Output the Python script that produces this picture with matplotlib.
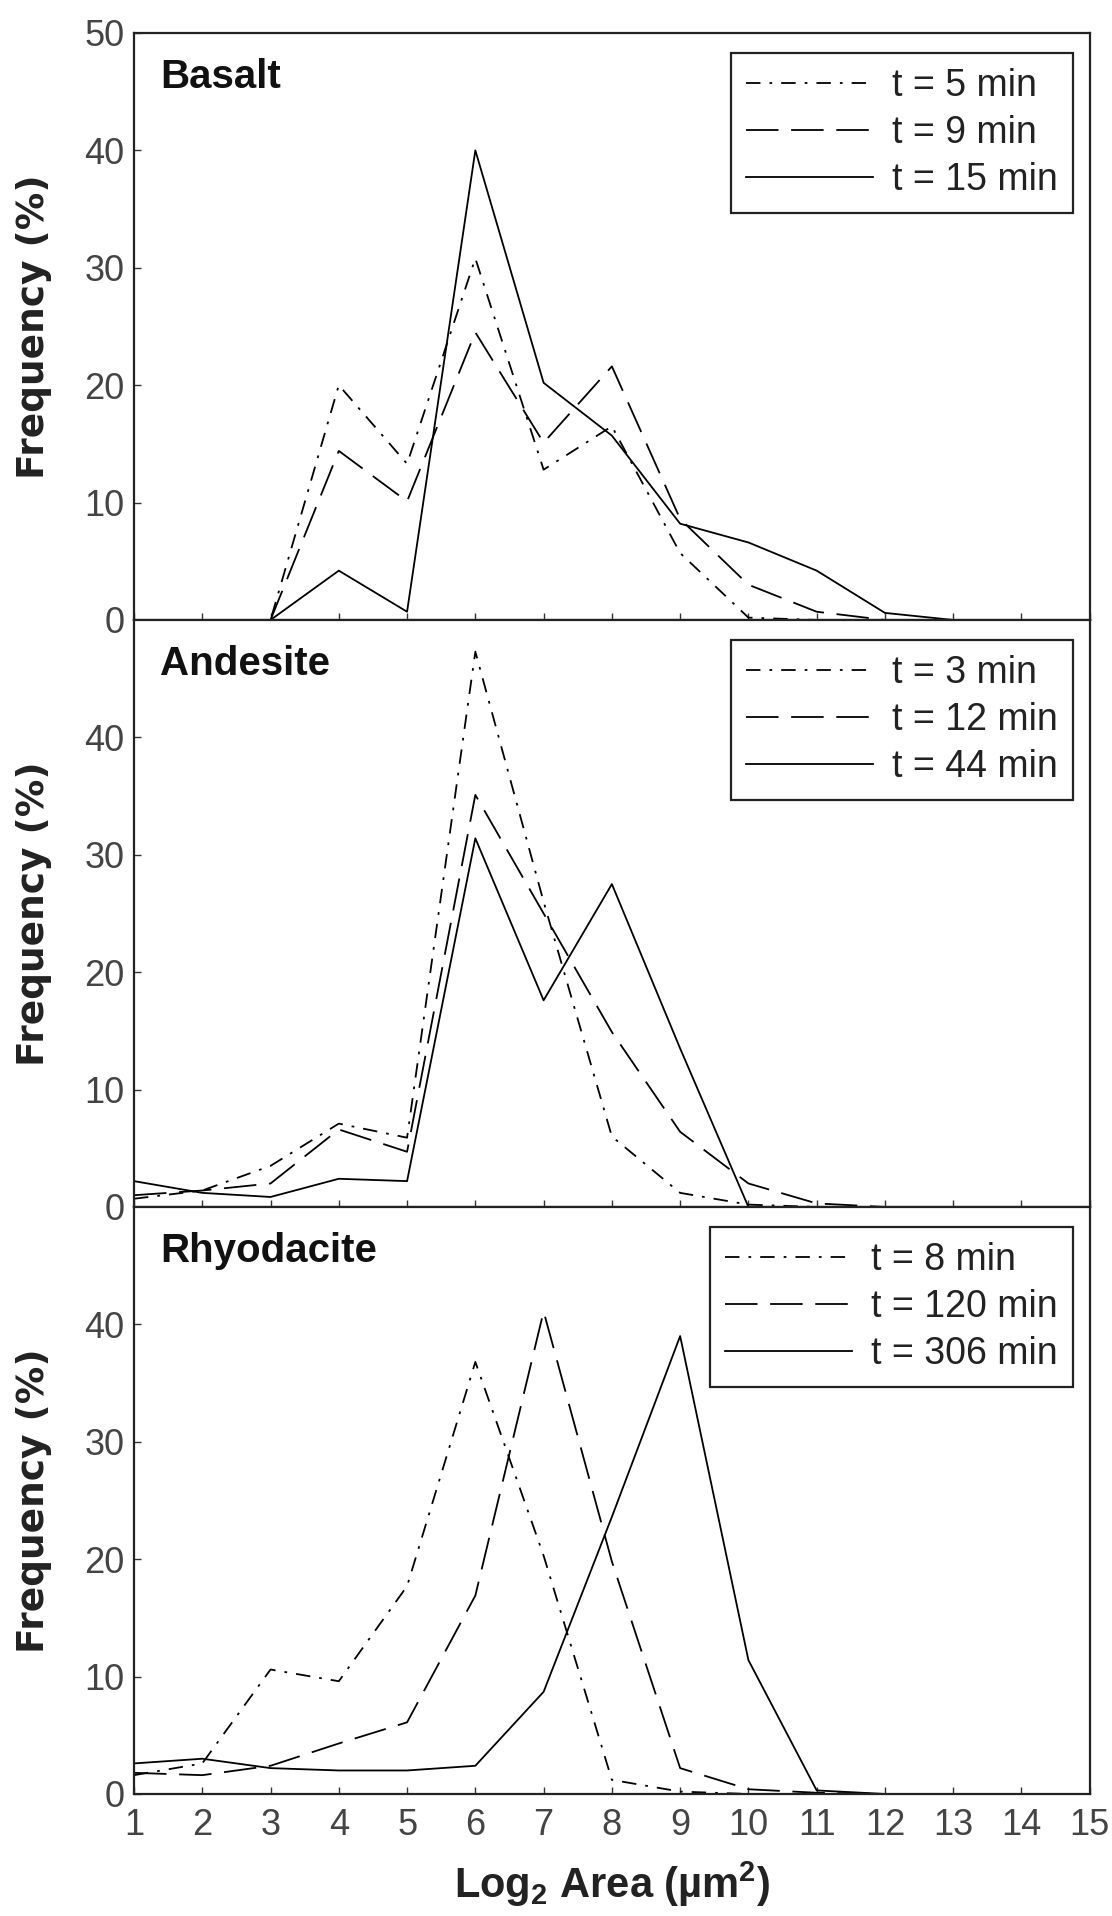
import matplotlib
matplotlib.use("Agg")
import matplotlib.pyplot as plt

plt.rcParams['font.family'] = ['Liberation Sans', 'DejaVu Sans']
plt.rcParams['mathtext.default'] = 'regular'

x = list(range(1, 16))

# Basalt
basalt_labels = ["t = 5 min", "t = 9 min", "t = 15 min"]
basalt_5 = [0, 0, 0, 20, 13.3, 30.8, 12.8, 16.5, 5.7, 0.2, 0, 0, 0, 0, 0]
basalt_9 = [0, 0, 0, 14.4, 10.1, 24.5, 15.1, 21.6, 8.6, 3.0, 0.7, 0, 0, 0, 0]
basalt_15 = [0, 0, 0, 4.2, 0.7, 40, 20.2, 15.7, 8.2, 6.6, 4.2, 0.6, 0, 0, 0]

# Andesite
andesite_labels = ["t = 3 min", "t = 12 min", "t = 44 min"]
andesite_3 = [0.7, 1.4, 3.5, 7.1, 5.9, 47.3, 26.0, 6.0, 1.2, 0.2, 0, 0, 0, 0, 0]
andesite_12 = [1.0, 1.4, 2.0, 6.6, 4.7, 35.1, 25.0, 14.9, 6.4, 2.0, 0.3, 0, 0, 0, 0]
andesite_44 = [2.2, 1.2, 0.85, 2.4, 2.2, 31.4, 17.6, 27.5, 13.5, 0, 0, 0, 0, 0, 0]

# Rhyodacite
rhyo_labels = ["t = 8 min", "t = 120 min", "t = 306 min"]
rhyo_8 = [1.6, 2.6, 10.6, 9.6, 17.7, 36.8, 20.3, 1.2, 0.2, 0, 0, 0, 0, 0, 0]
rhyo_120 = [1.8, 1.6, 2.4, 4.3, 6.1, 16.9, 41.1, 19.8, 2.2, 0.4, 0.1, 0, 0, 0, 0]
rhyo_306 = [2.6, 3.0, 2.2, 2.0, 2.0, 2.4, 8.7, 23.6, 39.0, 11.4, 0.3, 0, 0, 0, 0]

panels = [
    ("Basalt", basalt_labels, [basalt_5, basalt_9, basalt_15]),
    ("Andesite", andesite_labels, [andesite_3, andesite_12, andesite_44]),
    ("Rhyodacite", rhyo_labels, [rhyo_8, rhyo_120, rhyo_306]),
]

styles = [(0, (8, 5, 1.5, 5)), (0, (18, 7)), '-']

fig = plt.figure(figsize=(11.12, 19.16), dpi=100)
left, width = 0.1205, 0.8595
top, bottom = 0.9828, 0.0637
h = (top - bottom) / 3

for i, (name, labels, series) in enumerate(panels):
    ax = fig.add_axes([left, top - (i + 1) * h, width, h])
    for s, ls, lab in zip(series, styles, labels):
        ax.plot(x, s, color='black', lw=1.3, linestyle=ls, label=lab)
    ax.set_xlim(1, 15)
    ax.set_ylim(0, 50)
    ax.set_xticks(x)
    if i == 0:
        ax.set_yticks([0, 10, 20, 30, 40, 50])
    else:
        ax.set_yticks([0, 10, 20, 30, 40])
    ax.tick_params(direction='in', length=5, width=1, labelsize=26,
                   colors='#333333', labelcolor='#444444')
    ax.tick_params(axis='y', pad=7)
    if i < 2:
        ax.tick_params(axis='x', labelbottom=False)
    else:
        ax.tick_params(axis='x', pad=10)
        ax.set_xlabel(r"Log$_{2}$ Area (µm$^{2}$)", fontsize=30, fontweight='bold',
                      labelpad=12, color='#222222')
    for sp in ax.spines.values():
        sp.set_linewidth(1.6)
        sp.set_color('#222222')
    ax.set_ylabel("Frequency (%)", fontsize=27, fontweight='bold',
                  family='DejaVu Sans', color='#222222')
    ax.yaxis.set_label_coords(-0.086, 0.5)
    ax.text(0.027, 0.925, name, transform=ax.transAxes, fontsize=29,
            fontweight='bold', va='center', ha='left', color='#111111')
    leg = ax.legend(loc='upper right', fontsize=27, handlelength=3.4,
                    frameon=True, fancybox=False, framealpha=1, borderpad=0.4,
                    labelspacing=0.3, handletextpad=0.5, borderaxespad=0,
                    bbox_to_anchor=(0.982, 0.966))
    leg.get_frame().set_edgecolor('#222222')
    leg.get_frame().set_linewidth(1.6)
    for t in leg.get_texts():
        t.set_color('#222222')

fig.savefig("out.png", dpi=100)
